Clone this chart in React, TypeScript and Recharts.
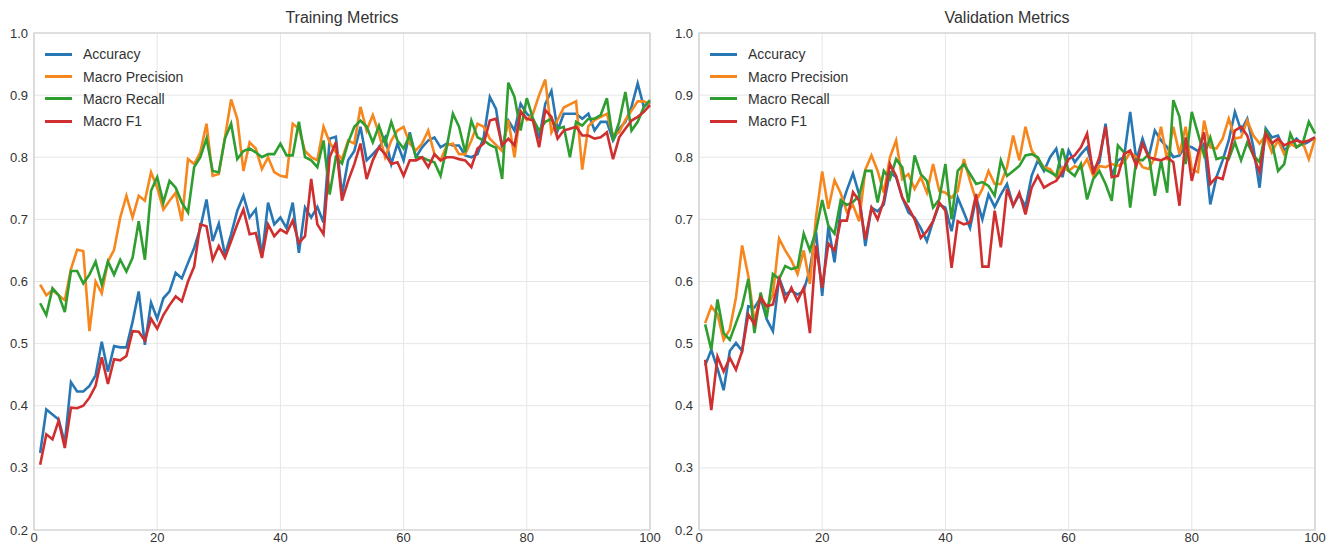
import { LineChart, Line, XAxis, YAxis, CartesianGrid, ReferenceArea } from 'recharts';

const EPOCHS = Array.from({ length: 100 }, (_, i) => i + 1);

const TRAIN_ACCURACY = [
  0.324, 0.394, 0.386, 0.378, 0.34, 0.438, 0.423, 0.423, 0.432, 0.449,
  0.503, 0.455, 0.496, 0.494, 0.494, 0.535, 0.584, 0.498, 0.566, 0.54,
  0.573, 0.584, 0.614, 0.605, 0.63, 0.654, 0.686, 0.732, 0.665, 0.693,
  0.643, 0.676, 0.714, 0.738, 0.703, 0.716, 0.64, 0.727, 0.692, 0.703,
  0.686, 0.727, 0.646, 0.719, 0.703, 0.72, 0.695, 0.83, 0.833, 0.74,
  0.795, 0.81, 0.849, 0.795, 0.805, 0.816, 0.832, 0.789, 0.822, 0.795,
  0.84, 0.8, 0.816, 0.827, 0.832, 0.816, 0.822, 0.819, 0.819, 0.803,
  0.8, 0.805, 0.832, 0.897, 0.878, 0.814, 0.859, 0.843, 0.886, 0.87,
  0.862, 0.83, 0.886, 0.907, 0.843, 0.87, 0.87, 0.87, 0.862, 0.87,
  0.843, 0.857, 0.857, 0.827, 0.846, 0.857, 0.881, 0.919, 0.881, 0.889,
];
const TRAIN_PRECISION = [
  0.595, 0.578, 0.586, 0.578, 0.57, 0.62, 0.651, 0.649, 0.52, 0.6,
  0.581, 0.632, 0.651, 0.703, 0.738, 0.703, 0.738, 0.73, 0.776, 0.751,
  0.716, 0.73, 0.743, 0.697, 0.797, 0.789, 0.808, 0.854, 0.77, 0.773,
  0.832, 0.893, 0.862, 0.778, 0.824, 0.814, 0.781, 0.8, 0.776, 0.77,
  0.768, 0.854, 0.846, 0.81, 0.8, 0.795, 0.849, 0.824, 0.808, 0.797,
  0.827, 0.822, 0.881, 0.843, 0.868, 0.838, 0.8, 0.827, 0.843, 0.849,
  0.822, 0.811, 0.822, 0.843, 0.805, 0.795, 0.819, 0.822, 0.805, 0.805,
  0.827, 0.854, 0.849, 0.83, 0.82, 0.81, 0.86, 0.8, 0.875, 0.86,
  0.87, 0.9, 0.925, 0.84, 0.86, 0.88, 0.885, 0.89, 0.78, 0.85,
  0.86, 0.865, 0.87, 0.835, 0.84, 0.86, 0.875, 0.89, 0.89, 0.885,
];
const TRAIN_RECALL = [
  0.565, 0.546, 0.589, 0.578, 0.551, 0.617, 0.617, 0.597, 0.611, 0.632,
  0.595, 0.632, 0.611, 0.635, 0.616, 0.638, 0.697, 0.635, 0.746, 0.768,
  0.727, 0.762, 0.751, 0.727, 0.711, 0.784, 0.8, 0.83, 0.778, 0.776,
  0.83, 0.854, 0.797, 0.81, 0.814, 0.808, 0.8, 0.805, 0.805, 0.822,
  0.803, 0.803, 0.857, 0.8, 0.795, 0.784, 0.827, 0.74, 0.8, 0.79,
  0.824, 0.849, 0.859, 0.849, 0.824, 0.851, 0.822, 0.857, 0.827, 0.814,
  0.835, 0.8, 0.8, 0.795, 0.792, 0.77, 0.816, 0.87, 0.849, 0.808,
  0.859, 0.832, 0.827, 0.82, 0.815, 0.765, 0.92, 0.897, 0.843, 0.895,
  0.862, 0.843, 0.857, 0.862, 0.846, 0.849, 0.8, 0.857, 0.851, 0.862,
  0.862, 0.868, 0.895, 0.827, 0.857, 0.905, 0.843, 0.857, 0.881, 0.892,
];
const TRAIN_F1 = [
  0.305, 0.354, 0.346, 0.376, 0.332, 0.397, 0.396, 0.4, 0.413, 0.432,
  0.478, 0.435, 0.475, 0.473, 0.48, 0.52, 0.519, 0.505, 0.54, 0.524,
  0.546, 0.562, 0.576, 0.568, 0.6, 0.624, 0.692, 0.689, 0.635, 0.657,
  0.638, 0.665, 0.692, 0.716, 0.676, 0.678, 0.638, 0.692, 0.673, 0.684,
  0.678, 0.698, 0.662, 0.673, 0.765, 0.692, 0.676, 0.8, 0.824, 0.73,
  0.762, 0.789, 0.822, 0.765, 0.795, 0.816, 0.805, 0.789, 0.792, 0.77,
  0.795, 0.795, 0.8, 0.784, 0.805, 0.795, 0.8, 0.8, 0.797, 0.795,
  0.784, 0.814, 0.822, 0.859, 0.862, 0.819, 0.83, 0.819, 0.873, 0.862,
  0.859, 0.816, 0.876, 0.865, 0.83, 0.843, 0.846, 0.849, 0.835, 0.835,
  0.83, 0.832, 0.84, 0.797, 0.832, 0.846, 0.859, 0.865, 0.873, 0.884,
];

const VAL_ACCURACY = [
  0.465, 0.49, 0.46, 0.425, 0.488, 0.501, 0.488, 0.56, 0.558, 0.574,
  0.539, 0.52, 0.606, 0.579, 0.585, 0.579, 0.585, 0.62, 0.68, 0.577,
  0.688, 0.631, 0.717, 0.747, 0.774, 0.74, 0.657, 0.719, 0.713, 0.724,
  0.776, 0.768, 0.735, 0.711, 0.703, 0.686, 0.665, 0.697, 0.724, 0.719,
  0.681, 0.735, 0.711, 0.686, 0.735, 0.7, 0.74, 0.72, 0.74, 0.757,
  0.722, 0.74, 0.72, 0.77, 0.795, 0.778, 0.8, 0.814, 0.768, 0.811,
  0.792, 0.805, 0.816, 0.78, 0.792, 0.854, 0.77, 0.795, 0.8, 0.873,
  0.795, 0.83, 0.8, 0.843, 0.827, 0.816, 0.8, 0.803, 0.819, 0.816,
  0.81, 0.822, 0.724, 0.768, 0.795, 0.827, 0.873, 0.843, 0.862, 0.816,
  0.751, 0.846, 0.832, 0.835, 0.811, 0.82, 0.83, 0.82, 0.825, 0.832,
];
const VAL_PRECISION = [
  0.533, 0.56, 0.547, 0.506, 0.523, 0.574, 0.658, 0.609, 0.536, 0.577,
  0.558, 0.579, 0.669, 0.65, 0.634, 0.612, 0.65, 0.596, 0.704, 0.777,
  0.717, 0.763, 0.742, 0.712, 0.723, 0.697, 0.78, 0.803, 0.778, 0.743,
  0.8, 0.827, 0.765, 0.773, 0.749, 0.768, 0.743, 0.789, 0.746, 0.743,
  0.735, 0.746, 0.797, 0.762, 0.73, 0.749, 0.778, 0.757, 0.757, 0.784,
  0.835, 0.795, 0.849, 0.811, 0.797, 0.784, 0.781, 0.768, 0.784, 0.778,
  0.786, 0.781, 0.797, 0.77, 0.786, 0.784, 0.789, 0.786, 0.792, 0.808,
  0.8, 0.784, 0.781, 0.8, 0.849, 0.795, 0.849, 0.805, 0.849, 0.78,
  0.776, 0.859, 0.816, 0.814, 0.83, 0.862, 0.83, 0.832, 0.859, 0.835,
  0.822, 0.835, 0.808, 0.827, 0.805, 0.822, 0.816, 0.824, 0.797, 0.83,
];
const VAL_RECALL = [
  0.531, 0.49, 0.571, 0.517, 0.506, 0.533, 0.56, 0.604, 0.517, 0.582,
  0.542, 0.612, 0.604, 0.625, 0.62, 0.623, 0.677, 0.65, 0.682, 0.731,
  0.69, 0.677, 0.731, 0.723, 0.728, 0.738, 0.778, 0.778, 0.727, 0.778,
  0.765, 0.797, 0.784, 0.727, 0.803, 0.773, 0.762, 0.719, 0.732, 0.789,
  0.7, 0.778, 0.789, 0.773, 0.757, 0.76, 0.754, 0.738, 0.795, 0.77,
  0.778, 0.786, 0.803, 0.805, 0.8, 0.781, 0.776, 0.77, 0.814, 0.778,
  0.77, 0.789, 0.732, 0.765, 0.778, 0.757, 0.73, 0.819, 0.808, 0.719,
  0.797, 0.795, 0.805, 0.738, 0.795, 0.743, 0.892, 0.865, 0.789, 0.873,
  0.838, 0.803, 0.832, 0.797, 0.8, 0.797, 0.824, 0.795, 0.824, 0.803,
  0.792, 0.843, 0.824, 0.778, 0.789, 0.838, 0.816, 0.822, 0.857, 0.838,
];
const VAL_F1 = [
  0.474, 0.393, 0.479, 0.455, 0.477, 0.458, 0.488, 0.547, 0.531, 0.574,
  0.56, 0.563, 0.604, 0.569, 0.59, 0.569, 0.59, 0.517, 0.658, 0.59,
  0.661, 0.65, 0.698, 0.698, 0.744, 0.73, 0.668, 0.719, 0.7, 0.73,
  0.789, 0.77, 0.735, 0.719, 0.7, 0.67, 0.681, 0.697, 0.727, 0.714,
  0.622, 0.697, 0.692, 0.695, 0.741, 0.624, 0.624, 0.714, 0.655, 0.749,
  0.722, 0.743, 0.708, 0.751, 0.77, 0.751, 0.757, 0.762, 0.776, 0.797,
  0.803, 0.816, 0.838, 0.773, 0.8, 0.849, 0.768, 0.77, 0.805, 0.811,
  0.786, 0.822, 0.8, 0.797, 0.795, 0.8, 0.792, 0.722, 0.832, 0.762,
  0.805, 0.84, 0.757, 0.768, 0.765, 0.803, 0.843, 0.849, 0.835, 0.803,
  0.776, 0.838, 0.822, 0.83, 0.819, 0.824, 0.827, 0.824, 0.827, 0.832,
];

const Y_TICKS = [0.2, 0.3, 0.4, 0.5, 0.6, 0.7, 0.8, 0.9, 1.0];
const X_TICKS = [0, 20, 40, 60, 80, 100];

const SERIES = [
  { key: 'accuracy', name: 'Accuracy', color: '#2777b4' },
  { key: 'precision', name: 'Macro Precision', color: '#f7861c' },
  { key: 'recall', name: 'Macro Recall', color: '#2f9e30' },
  { key: 'f1', name: 'Macro F1', color: '#cf2f2e' },
];

const FONT = '"Liberation Sans", Arial, sans-serif';

const trainingRows = EPOCHS.map((epoch, i) => ({
  epoch,
  accuracy: TRAIN_ACCURACY[i],
  precision: TRAIN_PRECISION[i],
  recall: TRAIN_RECALL[i],
  f1: TRAIN_F1[i],
}));

const validationRows = EPOCHS.map((epoch, i) => ({
  epoch,
  accuracy: VAL_ACCURACY[i],
  precision: VAL_PRECISION[i],
  recall: VAL_RECALL[i],
  f1: VAL_F1[i],
}));

interface PanelProps {
  title: string;
  rows: Record<string, number>[];
  left: number;
  width: number;
  marginRight: number;
}

const AXIS_WIDTH = 34;
const TOP = 33;
const HEIGHT = 547;

function MetricsPanel({ title, rows, left, width, marginRight }: PanelProps) {
  const plotLeft = left + AXIS_WIDTH;
  const plotWidth = width - AXIS_WIDTH - marginRight;
  return (
    <>
      <LineChart
        width={width}
        height={HEIGHT}
        data={rows}
        margin={{ top: TOP, right: marginRight, bottom: 0, left: 0 }}
        style={{ position: 'absolute', left, top: 0 }}
      >
        <CartesianGrid stroke="#e6e6e6" strokeWidth={1} />
        <XAxis
          type="number"
          dataKey="epoch"
          domain={[0, 100]}
          ticks={X_TICKS}
          tickLine={false}
          axisLine={false}
          tickSize={0}
          tickMargin={3}
          height={17}
          tick={{ fill: '#333333', fontSize: 13, fontFamily: FONT }}
        />
        <YAxis
          domain={[0.2, 1.0]}
          ticks={Y_TICKS}
          tickFormatter={(v: number) => v.toFixed(1)}
          tickLine={false}
          axisLine={false}
          tickSize={0}
          tickMargin={6}
          width={AXIS_WIDTH}
          tick={{ fill: '#333333', fontSize: 13, fontFamily: FONT }}
        />
        <ReferenceArea x1={0} x2={100} y1={0.2} y2={1.0} fill="none" stroke="#cccccc" strokeWidth={1.2} />
        {SERIES.map((s) => (
          <Line
            key={s.key}
            type="linear"
            dataKey={s.key}
            name={s.name}
            stroke={s.color}
            strokeWidth={2.6}
            dot={false}
            isAnimationActive={false}
          />
        ))}
      </LineChart>
      <div
        style={{
          position: 'absolute',
          left: plotLeft,
          width: plotWidth,
          top: 9,
          textAlign: 'center',
          fontSize: 16,
          lineHeight: '18px',
          color: '#333333',
          fontFamily: FONT,
        }}
      >
        {title}
      </div>
      <div style={{ position: 'absolute', left: plotLeft + 11, top: 43, fontFamily: FONT, fontSize: 14, color: '#333333' }}>
        {SERIES.map((s) => (
          <div key={s.key} style={{ display: 'flex', alignItems: 'center', height: 22.4 }}>
            <div style={{ width: 27, height: 3, background: s.color, marginRight: 11 }} />
            <span>{s.name}</span>
          </div>
        ))}
      </div>
    </>
  );
}

export default function App() {
  return (
    <div style={{ position: 'absolute', left: 0, top: 0, width: 1336, height: HEIGHT, background: '#ffffff', overflow: 'hidden' }}>
      <MetricsPanel title="Training Metrics" rows={trainingRows} left={0} width={668} marginRight={18} />
      <MetricsPanel title="Validation Metrics" rows={validationRows} left={665} width={671} marginRight={21} />
    </div>
  );
}
